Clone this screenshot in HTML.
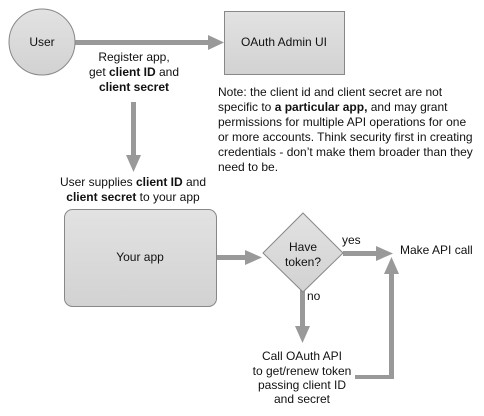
<!DOCTYPE html>
<html><head><style>
body{margin:0;background:#fff;}
svg text{font-family:"Liberation Sans",Arial,sans-serif;font-size:12px;fill:#111;}
</style></head><body>
<svg width="484" height="411" viewBox="0 0 484 411" xmlns="http://www.w3.org/2000/svg">
<defs>
<linearGradient id="g" x1="0" y1="0" x2="0" y2="1"><stop offset="0" stop-color="#e2e2e2"/><stop offset="1" stop-color="#d2d2d2"/></linearGradient>
</defs>
<g fill="#999" stroke="none">
<rect x="75" y="40" width="136" height="5"/><polygon points="208,35 224,42.5 208,50"/>
<rect x="131" y="102" width="5" height="56"/><polygon points="126,155 133.5,172 141,155"/>
<rect x="216" y="255" width="32" height="5"/><polygon points="245,250 262,257.5 245,265"/>
<rect x="343" y="251" width="36" height="5"/><polygon points="376,246 393,253.5 376,261"/>
<rect x="300" y="290" width="5" height="38"/><polygon points="295,326 302.5,343 310,326"/>
<rect x="355" y="375" width="39" height="4"/><rect x="389" y="272" width="5" height="107"/><polygon points="384,274 391.5,257 399,274"/>
</g>
<circle cx="42" cy="42" r="33" fill="url(#g)" stroke="#888" stroke-width="1"/>
<rect x="224.5" y="11.5" width="120" height="63" fill="url(#g)" stroke="#888"/>
<rect x="64.5" y="209.5" width="152" height="97" rx="8" fill="url(#g)" stroke="#888"/>
<polygon points="303,213 343,253 303,292 263,253" fill="url(#g)" stroke="#888"/>
<text x="42" y="46" text-anchor="middle">User</text>
<text x="284" y="46" text-anchor="middle">OAuth Admin UI</text>
<text x="134" y="61" text-anchor="middle">Register app,</text>
<text x="134" y="76" text-anchor="middle">get <tspan font-weight="bold">client ID</tspan> and</text>
<text x="134" y="91" text-anchor="middle" font-weight="bold">client secret</text>
<text x="218" y="96">Note: the client id and client secret are not</text>
<text x="218" y="111">specific to <tspan font-weight="bold">a particular app,</tspan> and may grant</text>
<text x="218" y="126">permissions for multiple API operations for one</text>
<text x="218" y="141">or more accounts. Think security first in creating</text>
<text x="218" y="156">credentials - don’t make them broader than they</text>
<text x="218" y="171">need to be.</text>
<text x="133" y="186" text-anchor="middle">User supplies <tspan font-weight="bold">client ID</tspan> and</text>
<text x="133" y="201" text-anchor="middle"><tspan font-weight="bold">client secret</tspan> to your app</text>
<text x="140" y="261" text-anchor="middle">Your app</text>
<text x="303" y="251" text-anchor="middle">Have</text>
<text x="303" y="266" text-anchor="middle">token?</text>
<text x="342" y="244">yes</text>
<text x="400" y="254">Make API call</text>
<text x="307" y="300">no</text>
<text x="302" y="360" text-anchor="middle">Call OAuth API</text>
<text x="302" y="375" text-anchor="middle">to get/renew token</text>
<text x="302" y="389" text-anchor="middle">passing client ID</text>
<text x="302" y="403" text-anchor="middle">and secret</text>
</svg>
</body></html>
